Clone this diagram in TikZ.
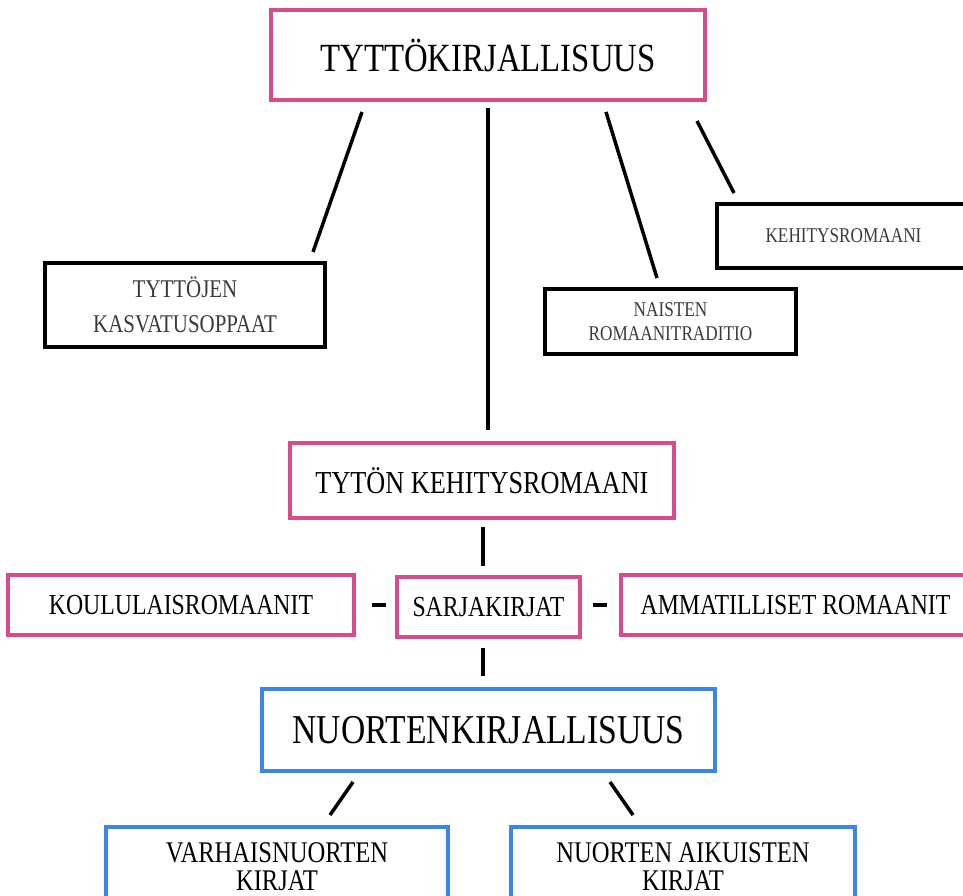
\documentclass[tikz,border=0pt]{standalone}
\usepackage{fontspec}
\setmainfont{Liberation Serif}[FakeStretch=0.82]
\begin{document}
\begin{tikzpicture}[x=1pt,y=-1pt]
    \definecolor{pinkBorder}{HTML}{DA4A8C}
    \definecolor{blueBorder}{HTML}{3D86E6}
    \definecolor{greyText}{HTML}{3A3A3A}
    \tikzset{
        box/.style={draw, rectangle, line width=4pt, inner sep=0pt, align=center},
        pinkbox/.style={box, draw=pinkBorder},
        bluebox/.style={box, draw=blueBorder},
        blackbox/.style={box, draw=black, text=greyText, line width=3.5pt},
        link/.style={line width=3.5pt}
    }

    % Canvas
    \useasboundingbox (0,0) rectangle (963,895);
    \clip (0,0) rectangle (963,895);

    % Top level
    \node[pinkbox, minimum width=434, minimum height=90, font=\fontsize{40}{44}\selectfont]
        (girls) at (488,55) {TYTTÖKIRJALLISUUS};

    % Sources of girls' books
    \node[blackbox, minimum width=280, minimum height=84, font=\fontsize{25.5}{35}\selectfont]
        (guides) at (185,305) {TYTTÖJEN\\KASVATUSOPPAAT};
    \node[blackbox, minimum width=251, minimum height=65, font=\fontsize{21}{24}\selectfont]
        (women) at (670.5,321.5) {NAISTEN\\ROMAANITRADITIO};
    \node[blackbox, minimum width=253, minimum height=64, font=\fontsize{21}{24}\selectfont]
        (bildung) at (843.5,236) {KEHITYSROMAANI};

    % Middle level
    \node[pinkbox, minimum width=384, minimum height=75, font=\fontsize{32}{36}\selectfont]
        (girlnovel) at (482,480.5) {TYTÖN KEHITYSROMAANI};
    \node[pinkbox, minimum width=183, minimum height=60, font=\fontsize{29}{32}\selectfont]
        (series) at (488.5,607) {SARJAKIRJAT};
    \node[pinkbox, minimum width=346, minimum height=60, font=\fontsize{29}{32}\selectfont]
        (school) at (181,605) {KOULULAISROMAANIT};
    \node[pinkbox, minimum width=349, minimum height=60, font=\fontsize{29}{32}\selectfont]
        (career) at (795.5,605) {AMMATILLISET ROMAANIT};

    % Youth literature
    \node[bluebox, minimum width=453, minimum height=82, font=\fontsize{41}{45}\selectfont]
        (youth) at (488.5,730) {NUORTENKIRJALLISUUS};
    \node[bluebox, minimum width=342, minimum height=90, font=\fontsize{30}{28}\selectfont,
        anchor=north] (early) at (277,825) {\rule{0pt}{22pt}VARHAISNUORTEN\\KIRJAT\rule[-14pt]{0pt}{14pt}};
    \node[bluebox, minimum width=344, minimum height=90, font=\fontsize{30}{28}\selectfont,
        anchor=north] (adult) at (683,825) {\rule{0pt}{22pt}NUORTEN AIKUISTEN\\KIRJAT\rule[-14pt]{0pt}{14pt}};

    % Line ends
    \coordinate (g1) at (362,112);  \coordinate (k1) at (313,252);
    \coordinate (g2) at (488,108);  \coordinate (t2) at (488,430);
    \coordinate (g3) at (606,112);  \coordinate (n3) at (657,278);
    \coordinate (g4) at (697,121);  \coordinate (b4) at (734,193);
    \coordinate (t5) at (483,527);  \coordinate (s5) at (483,566);
    \coordinate (s6) at (483,648);  \coordinate (y6) at (483,676);
    \coordinate (y7) at (353,782);  \coordinate (e7) at (330,815);
    \coordinate (y8) at (610,782);  \coordinate (a8) at (633,815);
    \coordinate (d1) at (372,605);  \coordinate (d2) at (386,605);
    \coordinate (d3) at (593,605);  \coordinate (d4) at (607,605);

    % Draw lines
    \draw[link] (g1) -- (k1);
    \draw[link] (g2) -- (t2);
    \draw[link] (g3) -- (n3);
    \draw[link] (g4) -- (b4);
    \draw[link] (t5) -- (s5);
    \draw[link] (s6) -- (y6);
    \draw[link] (y7) -- (e7);
    \draw[link] (y8) -- (a8);
    \draw[line width=4.5pt] (d1) -- (d2);
    \draw[line width=4.5pt] (d3) -- (d4);

\end{tikzpicture}
\end{document}
